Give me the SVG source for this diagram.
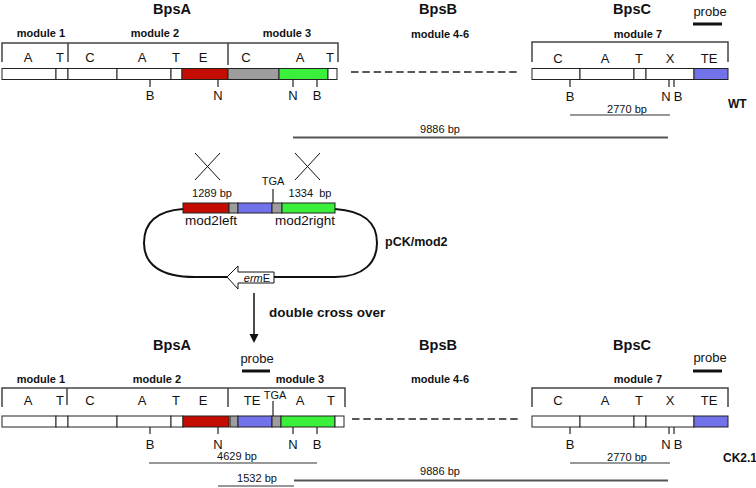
<svg xmlns="http://www.w3.org/2000/svg" width="756" height="488" viewBox="0 0 756 488">
<style>
text{font-family:"Liberation Sans",Arial,sans-serif;fill:#111}
.t{font-size:11px;font-weight:bold;text-anchor:middle}
.h{font-size:14.5px;font-weight:bold;text-anchor:middle}
.d{font-size:13px;text-anchor:middle}
.s{font-size:11px;text-anchor:middle}
.br{fill:none;stroke:#444;stroke-width:1.5}
.seg{stroke:#222;stroke-width:1}
.w{fill:#fff}
.red{fill:#c40c00}
.gr{fill:#9d9d9d}
.bl{fill:#7272ea}
.gn{fill:#3af03a}
.tk{stroke:#222;stroke-width:1.2}
.ln{stroke:#333;stroke-width:1.2}
.ln2{stroke:#555;stroke-width:1.8}
.pb{stroke:#111;stroke-width:3}
</style>
<rect width="756" height="488" fill="#fff"/>

<g id="bpsA-wt">
<text class="h" x="172" y="14">BpsA</text>
<text class="t" x="41" y="37">module 1</text>
<text class="t" x="155" y="37">module 2</text>
<text class="t" x="287" y="37">module 3</text>
<path class="br" d="M2,62 V43 H338 V62 M68,43 V62 M228,43 V65"/>
<text class="d" x="28" y="62">A</text><text class="d" x="60" y="62">T</text>
<text class="d" x="90" y="62">C</text><text class="d" x="142" y="62">A</text>
<text class="d" x="176" y="62">T</text><text class="d" x="203" y="62">E</text>
<text class="d" x="246" y="62">C</text><text class="d" x="300" y="62">A</text>
<text class="d" x="330" y="62">T</text>
<rect class="seg w" x="2" y="68.5" width="54" height="11"/>
<rect class="seg w" x="56" y="68.5" width="12" height="11"/>
<rect class="seg w" x="68" y="68.5" width="49" height="11"/>
<rect class="seg w" x="117" y="68.5" width="54" height="11"/>
<rect class="seg w" x="171" y="68.5" width="11" height="11"/>
<rect class="seg red" x="182" y="68.5" width="46" height="11"/>
<rect class="seg gr" x="228" y="68.5" width="51" height="11"/>
<rect class="seg gn" x="279" y="68.5" width="49" height="11"/>
<rect class="seg w" x="328" y="68.5" width="9" height="11"/>
<path class="tk" d="M150,79.5 V87 M218,79.5 V87 M293,79.5 V87 M317,79.5 V87"/>
<text class="d" x="150" y="100">B</text><text class="d" x="218" y="100">N</text>
<text class="d" x="293" y="100">N</text><text class="d" x="317" y="100">B</text>
</g>

<g id="bpsB-wt">
<text class="h" x="438" y="14">BpsB</text>
<text class="t" x="440" y="37.5">module 4-6</text>
</g>

<g id="bpsC-wt">
<text class="h" x="632" y="14">BpsC</text>
<text class="d" x="710" y="16">probe</text>
<line class="pb" x1="693" y1="24" x2="722" y2="24"/>
<text class="t" x="638" y="37.5">module  7</text>
<path class="br" d="M532,62 V42 H728 V62"/>
<text class="d" x="558" y="63">C</text><text class="d" x="605" y="63">A</text>
<text class="d" x="639" y="63">T</text><text class="d" x="670" y="63">X</text>
<text class="d" x="709" y="63">TE</text>
<rect class="seg w" x="532" y="68.5" width="48" height="11"/>
<rect class="seg w" x="580" y="68.5" width="54" height="11"/>
<rect class="seg w" x="634" y="68.5" width="12" height="11"/>
<rect class="seg w" x="646" y="68.5" width="48" height="11"/>
<rect class="seg bl" x="694" y="68.5" width="34" height="11"/>
<path class="tk" d="M570,79.5 V87 M669,79.5 V87 M674,79.5 V87"/>
<text class="d" x="570" y="101">B</text><text class="d" x="666" y="101">N</text><text class="d" x="678" y="101">B</text>
<text x="728" y="108" style="font-size:12px;font-weight:bold">WT</text>
<text class="s" x="627" y="113">2770 bp</text>
<line class="ln" x1="570" y1="115" x2="670" y2="115"/>
<text class="s" x="440" y="133">9886 bp</text>
<line class="ln2" x1="293" y1="137.5" x2="668" y2="137.5"/>
</g>

<g id="plasmid">
<path d="M195,153 L220,180 M220,153 L195,180 M295,153 L320,180 M320,153 L295,180" stroke="#111" stroke-width="1"/>
<text class="s" x="212" y="197">1289 bp</text>
<text class="s" x="310" y="197" style="white-space:pre">1334  bp</text>
<text class="s" x="273" y="185">TGA</text>
<line class="tk" x1="273" y1="189" x2="273" y2="203"/>
<path d="M183,209 C155,211 144,224 144,243 C144,264 160,277 195,277 L335,277 C364,277 377,262 377,243 C377,223 365,211 335,209" fill="none" stroke="#111" stroke-width="2"/>
<rect class="seg red" x="183" y="203" width="46" height="10"/>
<rect class="seg gr" x="229" y="203" width="9" height="10"/>
<rect class="seg bl" x="238" y="203" width="34" height="10"/>
<rect class="seg gr" x="272" y="203" width="10" height="10"/>
<rect class="seg gn" x="282" y="203" width="53" height="10"/>
<text x="211" y="225" style="font-size:13.5px;text-anchor:middle">mod2left</text>
<text x="305" y="225" style="font-size:13.5px;text-anchor:middle">mod2right</text>
<text x="385" y="246" style="font-size:12.5px;font-weight:bold">pCK/mod2</text>
<polygon points="227,277 238,266 238,272 274,272 274,283 238,283 238,289" fill="#fff" stroke="#111" stroke-width="1"/>
<text x="257" y="282" style="font-size:11px;text-anchor:middle"><tspan font-style="italic">erm</tspan>E</text>
<text x="269" y="317" style="font-size:13.5px;font-weight:bold">double cross over</text>
</g>

<g id="bpsA-ck">
<text class="h" x="172" y="350">BpsA</text>
<text class="d" x="257" y="363">probe</text>
<line class="pb" x1="242" y1="371" x2="270" y2="371"/>
<text class="t" x="41" y="383">module 1</text>
<text class="t" x="157" y="383">module 2</text>
<text class="t" x="300" y="383">module 3</text>
<path class="br" d="M2,407 V388 H345 V407 M67,388 V405 M228,388 V407"/>
<text class="d" x="28" y="405">A</text><text class="d" x="60" y="405">T</text>
<text class="d" x="90" y="405">C</text><text class="d" x="142" y="405">A</text>
<text class="d" x="176" y="405">T</text><text class="d" x="203" y="405">E</text>
<text class="d" x="252" y="405">TE</text>
<text class="s" x="275" y="399">TGA</text>
<text class="d" x="300" y="405">A</text><text class="d" x="331" y="405">T</text>
<line class="tk" x1="273" y1="401" x2="273" y2="416"/>
<rect class="seg w" x="2" y="416" width="54" height="11"/>
<rect class="seg w" x="56" y="416" width="12" height="11"/>
<rect class="seg w" x="68" y="416" width="49" height="11"/>
<rect class="seg w" x="117" y="416" width="54" height="11"/>
<rect class="seg w" x="171" y="416" width="12" height="11"/>
<rect class="seg red" x="183" y="416" width="46" height="11"/>
<rect class="seg gr" x="230" y="416" width="8" height="11"/>
<rect class="seg bl" x="238" y="416" width="34" height="11"/>
<rect class="seg gr" x="272" y="416" width="9" height="11"/>
<rect class="seg gn" x="281" y="416" width="54" height="11"/>
<rect class="seg w" x="335" y="416" width="9" height="11"/>
<path class="tk" d="M150,427 V434 M218,427 V434 M293,427 V434 M317,427 V434"/>
<text class="d" x="150" y="449">B</text><text class="d" x="218" y="449">N</text>
<text class="d" x="293" y="449">N</text><text class="d" x="317" y="449">B</text>
<text class="s" x="237" y="460">4629 bp</text>
<line class="ln" x1="149" y1="463" x2="317" y2="463"/>
<text class="s" x="257" y="482">1532 bp</text>
<line class="ln" x1="218" y1="486" x2="294" y2="486"/>
</g>

<g id="bpsB-ck">
<text class="h" x="438" y="350">BpsB</text>
<text class="t" x="440" y="383">module 4-6</text>
</g>

<g id="bpsC-ck">
<text class="h" x="632" y="350">BpsC</text>
<text class="d" x="710" y="362">probe</text>
<line class="pb" x1="693" y1="371" x2="722" y2="371"/>
<text class="t" x="638" y="383">module  7</text>
<path class="br" d="M532,407 V388 H728 V407"/>
<text class="d" x="558" y="405">C</text><text class="d" x="605" y="405">A</text>
<text class="d" x="639" y="405">T</text><text class="d" x="670" y="405">X</text>
<text class="d" x="709" y="405">TE</text>
<rect class="seg w" x="532" y="416" width="48" height="11"/>
<rect class="seg w" x="580" y="416" width="54" height="11"/>
<rect class="seg w" x="634" y="416" width="12" height="11"/>
<rect class="seg w" x="646" y="416" width="48" height="11"/>
<rect class="seg bl" x="694" y="416" width="34" height="11"/>
<path class="tk" d="M570,427 V434 M669,427 V434 M674,427 V434"/>
<text class="d" x="570" y="449">B</text><text class="d" x="666" y="449">N</text><text class="d" x="678" y="449">B</text>
<text x="723" y="462" style="font-size:12px;font-weight:bold">CK2.1</text>
<text class="s" x="627" y="461">2770 bp</text>
<line class="ln" x1="570" y1="463" x2="670" y2="463"/>
<text class="s" x="440" y="475">9886 bp</text>
<line class="ln2" x1="294" y1="480.5" x2="668" y2="480.5"/>
</g>

<g id="connectors">
<line x1="351" y1="72" x2="517" y2="72" stroke="#222" stroke-width="1.6" stroke-dasharray="7.5 3.8"/>
<line x1="352" y1="419" x2="518" y2="419" stroke="#222" stroke-width="1.6" stroke-dasharray="7.5 3.8"/>
<line x1="254" y1="293" x2="254" y2="336" stroke="#111" stroke-width="1.5"/>
<polygon points="249.5,334 258.5,334 254,343" fill="#111"/>
</g>
</svg>
